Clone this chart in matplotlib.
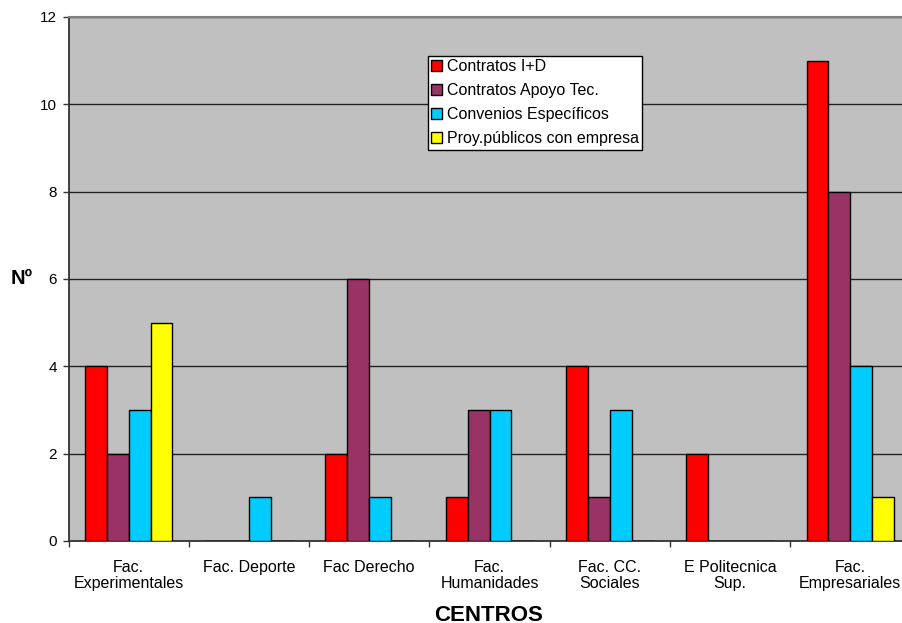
import matplotlib.pyplot as plt
import numpy as np

plt.rcParams['font.family'] = ['Liberation Sans', 'DejaVu Sans']

centros = ['Fac.\nExperimentales', 'Fac. Deporte', 'Fac Derecho', 'Fac.\nHumanidades',
           'Fac. CC.\nSociales', 'E Politecnica\nSup.', 'Fac.\nEmpresariales']
contratos_id = [4, 0, 2, 1, 4, 2, 11]
contratos_apoyo = [2, 0, 6, 3, 1, 0, 8]
convenios = [3, 1, 1, 3, 3, 0, 4]
proy_publicos = [5, 0, 0, 0, 0, 0, 1]

series = [
    ('Contratos I+D', contratos_id, '#FF0000'),
    ('Contratos Apoyo Tec.', contratos_apoyo, '#993366'),
    ('Convenios Específicos', convenios, '#00CCFF'),
    ('Proy.públicos con empresa', proy_publicos, '#FFFF00'),
]

W, H = 902, 623
fig = plt.figure(figsize=(W / 100, H / 100), dpi=100)
# the chart is cut off on the right side in the reference
ax = fig.add_axes([68.5 / W, (H - 541) / H, 842 / W, 524 / H])
ax.set_facecolor('#C0C0C0')

x = np.arange(len(centros))
w = 1 / 5.5
for i, (name, vals, col) in enumerate(series):
    ax.bar(x + (i - 1.5) * w, vals, width=w, color=col, edgecolor='black',
           linewidth=1.0, label=name, zorder=3)

ax.set_xlim(-0.5, len(centros) - 0.5)
ax.set_ylim(0, 12)
ax.set_yticks(range(0, 13, 2))
ax.yaxis.grid(True, color='#222222', linewidth=1.0, zorder=1)
ax.set_axisbelow(True)

ax.set_xticks(x)
ax.set_xticklabels(centros, fontsize=11.5, linespacing=1.05)
ax.set_xticks(np.arange(-0.5, len(centros)), minor=True)
ax.tick_params(axis='x', which='major', length=0, pad=14)
ax.tick_params(axis='x', which='minor', length=4.5, width=1, direction='out', color='#333333')
ax.tick_params(axis='y', length=4.5, width=1, direction='out', labelsize=11, pad=4,
               color='#333333')

for s in ['top', 'right']:
    ax.spines[s].set_color('#808080')
    ax.spines[s].set_linewidth(1.5)
for s in ['left', 'bottom']:
    ax.spines[s].set_color('#333333')
    ax.spines[s].set_linewidth(1.3)

fig.text(489 / W, 2 / H, 'CENTROS', fontsize=16, fontweight='bold',
         ha='center', va='baseline')
fig.text(21.5 / W, 1 - 278 / H, 'Nº', fontsize=14.5, fontweight='bold',
         ha='center', va='center')

leg = ax.legend(loc='upper left', bbox_to_anchor=(0.4264, 0.9256), fontsize=11.5,
                frameon=True, fancybox=False, framealpha=1, edgecolor='black',
                handlelength=0.7, handleheight=0.7, handletextpad=0.3,
                borderpad=0.2, labelspacing=0.57, borderaxespad=0)
leg.get_frame().set_linewidth(1.0)

plt.savefig('out.png', dpi=100)
